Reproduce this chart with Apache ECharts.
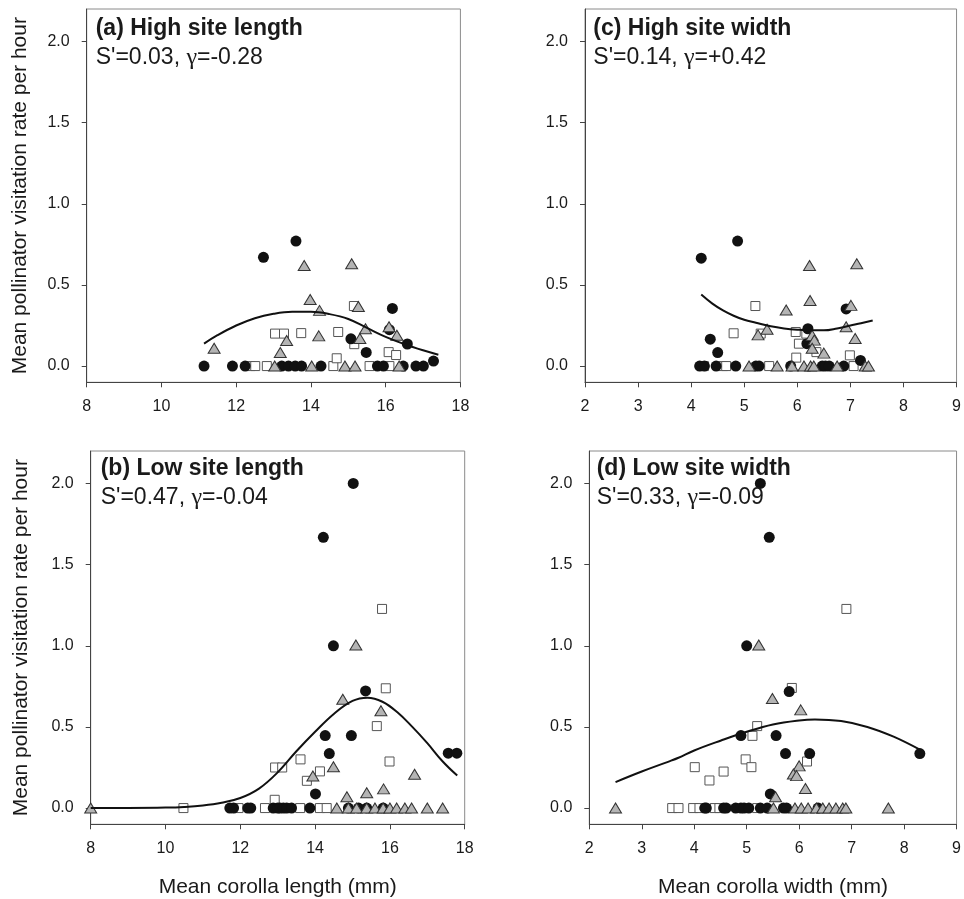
<!DOCTYPE html>
<html>
<head>
<meta charset="utf-8">
<script src="https://cdn.jsdelivr.net/npm/echarts@6/dist/echarts.min.js"></script>
<style>
html,body{margin:0;padding:0;background:#fff;}
#chart{width:964px;height:899px;}
</style>
</head>
<body>
<div id="chart"></div>
<script>
// ---------- DATA ----------
const yTicks = [0, 0.5, 1.0, 1.5, 2.0];
const yRange = [-0.1, 2.2];
const lengthTicks = [8, 18, 2];   // min, max, step
const widthTicks = [2, 9, 1];

const yAxisTitle = 'Mean pollinator visitation rate per hour';
const xTitleLength = 'Mean corolla length (mm)';
const xTitleWidth = 'Mean corolla width (mm)';

const titles = ['(a) High site length', '(b) Low site length', '(c) High site width', '(d) Low site width'];
// [S' value text, gamma value text]
const stats = [["S'=0.03, ", "=-0.28"], ["S'=0.47, ", "=-0.04"], ["S'=0.14, ", "=+0.42"], ["S'=0.33, ", "=-0.09"]];

// (a) High site length
const aCircles = [[11.14,0],[11.9,0],[12.24,0],[13.22,0],[13.4,0],[13.58,0],[13.75,0],[14.27,0],[15.78,0],[15.94,0],[16.47,0],[16.81,0],[17.01,0],
  [12.73,0.67],[13.6,0.77],[16.18,0.355],[15.07,0.168],[15.48,0.084],[16.1,0.224],[16.58,0.136],[17.28,0.031]];
const aSquares = [[12.38,0],[12.51,0],[12.82,0],[14.6,0],[15.57,0],[16.1,0],
  [13.04,0.2],[13.28,0.2],[13.74,0.203],[14.73,0.21],[15.15,0.37],[15.16,0.135],[14.69,0.048],[16.08,0.086],[16.28,0.068]];
const aTriangles = [[11.41,0.11],[13.82,0.62],[15.09,0.63],[13.98,0.41],[14.23,0.343],[15.27,0.367],[15.46,0.23],[15.31,0.17],
  [14.21,0.186],[13.35,0.158],[13.18,0.084],[16.09,0.242],[16.3,0.19],
  [13.03,0],[14.02,0],[14.91,0],[15.18,0],[16.36,0]];
const aCurve = [[11.14,0.138],[11.5,0.19],[12,0.25],[12.5,0.295],[13,0.322],[13.5,0.334],[14,0.334],[14.5,0.32],[15,0.29],[15.5,0.235],[16,0.18],[16.5,0.135],[17,0.097],[17.41,0.07]];

// (b) Low site length
const bCircles = [[15.02,2.0],[14.22,1.668],[14.49,1.0],[15.35,0.722],[14.27,0.447],[14.97,0.447],[14.38,0.336],[14.01,0.087],[17.56,0.338],[17.79,0.338],
  [11.72,0],[11.82,0],[12.2,0],[12.28,0],[12.88,0],[13.0,0],[13.06,0],[13.15,0],[13.24,0],[13.37,0],[13.86,0],[14.89,0],[15.16,0],[15.38,0],[15.82,0]];
const bSquares = [[15.79,1.227],[15.89,0.738],[15.65,0.505],[15.99,0.287],[12.93,0.25],[13.12,0.25],[13.61,0.30],[14.13,0.226],[13.78,0.168],[12.92,0.051],
  [10.48,0],[11.95,0],[12.66,0],[13.6,0],[14.13,0],[14.31,0]];
const bTriangles = [[8.0,0],[15.09,1.005],[14.74,0.67],[15.76,0.6],[14.49,0.255],[13.94,0.198],[16.66,0.208],[15.38,0.094],[15.83,0.118],[14.85,0.07],
  [14.58,0],[14.89,0],[15.11,0],[15.38,0],[15.6,0],[15.82,0],[16.0,0],[16.18,0],[16.4,0],[16.58,0],[17.0,0],[17.41,0]];
const bCurve = [[8,0],[9,0.0005],[10,0.003],[10.5,0.007],[11,0.016],[11.5,0.033],[12,0.062],[12.5,0.12],[13,0.22],[13.5,0.35],[14,0.47],[14.5,0.58],[15,0.66],[15.4,0.68],[15.8,0.655],[16.2,0.59],[16.6,0.5],[17,0.40],[17.4,0.29],[17.8,0.2]];

// (c) High site width
const cCircles = [[4.19,0.665],[4.875,0.77],[4.36,0.166],[4.5,0.083],[6.92,0.352],[6.2,0.23],[6.18,0.138],[7.19,0.035],
  [4.16,0],[4.25,0],[4.47,0],[4.84,0],[5.22,0],[5.28,0],[5.875,0],[6.47,0],[6.53,0],[6.6,0],[6.875,0]];
const cSquares = [[5.21,0.37],[4.8,0.202],[5.31,0.2],[5.97,0.21],[6.17,0.2],[6.03,0.138],[6.36,0.086],[5.98,0.052],[6.99,0.066],
  [4.24,0],[4.6,0],[4.66,0],[5.47,0],[7.06,0]];
const cTriangles = [[6.23,0.62],[7.12,0.63],[6.24,0.404],[7.01,0.374],[5.79,0.345],[6.92,0.242],[7.09,0.17],[5.43,0.227],[5.26,0.192],
  [6.28,0.189],[6.32,0.16],[6.5,0.08],[6.28,0.11],
  [5.09,0],[5.62,0],[5.9,0],[6.125,0],[6.25,0],[6.31,0],[6.75,0],[7.28,0],[7.34,0]];
const cCurve = [[4.19,0.441],[4.4,0.385],[4.6,0.343],[4.8,0.31],[5.0,0.285],[5.22,0.267],[5.5,0.245],[5.75,0.232],[6.0,0.224],[6.25,0.22],[6.5,0.22],[6.75,0.232],[7.0,0.25],[7.2,0.264],[7.42,0.281]];

// (d) Low site width
const dCircles = [[5.26,2.0],[5.43,1.668],[5.0,1.0],[5.81,0.718],[4.89,0.447],[5.56,0.447],[5.74,0.336],[6.2,0.336],[8.3,0.336],[5.45,0.087],
  [4.2,0],[4.23,0],[4.56,0],[4.61,0],[4.79,0],[4.89,0],[4.95,0],[5.04,0],[5.26,0],[5.39,0],[5.7,0],[5.76,0],[6.36,0]];
const dSquares = [[6.9,1.227],[5.86,0.74],[5.2,0.505],[5.11,0.445],[4.98,0.3],[5.09,0.252],[6.15,0.287],[4.01,0.252],[4.56,0.225],[4.29,0.17],
  [3.58,0],[3.7,0],[3.98,0],[4.1,0],[4.39,0],[4.48,0],[5.2,0]];
const dTriangles = [[2.5,0],[5.23,1.005],[5.49,0.675],[6.03,0.605],[6.0,0.26],[5.89,0.21],[5.95,0.2],[6.12,0.121],[5.55,0.07],[7.7,0],
  [5.51,0],[5.92,0],[6.04,0],[6.17,0],[6.33,0],[6.45,0],[6.57,0],[6.7,0],[6.83,0],[6.89,0]];
const dCurve = [[2.5,0.16],[3.0,0.225],[3.5,0.285],[3.7,0.31],[4.0,0.355],[4.5,0.415],[5.0,0.47],[5.5,0.515],[6.0,0.54],[6.3,0.546],[6.8,0.536],[7.3,0.5],[7.8,0.44],[8.3,0.36]];

// ---------- LAYOUT ----------
const FONT = '"Liberation Sans", Arial, sans-serif';
const SERIF = '"Liberation Serif", "Times New Roman", serif';
const TXT = '#1a1a1a';
const panels = [
  {grid:{left:86.7, top:9, width:373.7, height:373.3}, ticks:lengthTicks, pts:[aCircles,aSquares,aTriangles], curve:aCurve, title:titles[0], stat:stats[0], xName:'', yName:yAxisTitle, yGap:56, tx:95.7, ty:36},
  {grid:{left:90.7, top:451, width:374, height:373.3}, ticks:lengthTicks, pts:[bCircles,bSquares,bTriangles], curve:bCurve, title:titles[1], stat:stats[1], xName:xTitleLength, yName:yAxisTitle, yGap:59, tx:100.7, ty:475.7},
  {grid:{left:585, top:9, width:373.3, height:373.3}, ticks:widthTicks, pts:[cCircles,cSquares,cTriangles], curve:cCurve, title:titles[2], stat:stats[2], xName:'', yName:'', yGap:55, tx:593.3, ty:36},
  {grid:{left:589.3, top:451, width:373.4, height:373.3}, ticks:widthTicks, pts:[dCircles,dSquares,dTriangles], curve:dCurve, title:titles[3], stat:stats[3], xName:xTitleWidth, yName:'', yGap:55, tx:596.7, ty:475.7}
];

const grids = [], xAxes = [], yAxes = [], series = [], graphics = [];
panels.forEach((p, i) => {
  grids.push(Object.assign({show:true, borderColor:'#8a8a8a', borderWidth:1, backgroundColor:'#fff'}, p.grid));
  xAxes.push({
    type:'value', gridIndex:i, min:p.ticks[0], max:p.ticks[1], interval:p.ticks[2],
    splitLine:{show:false},
    axisLine:{onZero:false, lineStyle:{color:'#444', width:1}},
    axisTick:{length:5, lineStyle:{color:'#444'}},
    axisLabel:{fontSize:16, color:TXT, margin:16, fontFamily:FONT, showMaxLabel:true, showMinLabel:true},
    name:p.xName, nameLocation:'middle', nameGap:52,
    nameTextStyle:{fontSize:21, color:TXT, fontFamily:FONT}
  });
  yAxes.push({
    type:'value', gridIndex:i, min:yRange[0], max:yRange[1],
    splitLine:{show:false},
    axisLine:{onZero:false, lineStyle:{color:'#444', width:1}},
    axisTick:{length:5, lineStyle:{color:'#444'}, customValues:yTicks},
    axisLabel:{fontSize:16, color:TXT, margin:17, fontFamily:FONT, customValues:yTicks, formatter:v => Number(v).toFixed(1)},
    name:p.yName, nameLocation:'middle', nameGap:p.yGap,
    nameTextStyle:{fontSize:21, color:TXT, fontFamily:FONT}
  });
  series.push({type:'scatter', xAxisIndex:i, yAxisIndex:i, data:p.pts[1], symbol:'rect', symbolSize:9,
    itemStyle:{color:'#ffffff', borderColor:'#555', borderWidth:1, opacity:1}, z:2, silent:true});
  series.push({type:'scatter', xAxisIndex:i, yAxisIndex:i, data:p.pts[0], symbol:'circle', symbolSize:11,
    itemStyle:{color:'#111', opacity:1}, z:3, silent:true});
  series.push({type:'scatter', xAxisIndex:i, yAxisIndex:i, data:p.pts[2], symbol:'triangle', symbolSize:[12,10],
    itemStyle:{color:'#b4b4b4', borderColor:'#333', borderWidth:1, opacity:1}, z:4, silent:true});
  series.push({type:'line', xAxisIndex:i, yAxisIndex:i, data:p.curve, smooth:0.4, showSymbol:false, symbol:'none',
    lineStyle:{color:'#111', width:2}, z:5, silent:true});
  graphics.push({type:'text', x:p.tx, y:p.ty - 0.31*23, z:100, style:{text:p.title, font:'bold 23px ' + FONT, fill:TXT, verticalAlign:'middle', align:'left'}});
  graphics.push({type:'text', x:p.tx, y:p.ty + 29 - 0.31*23, z:100, style:{
    text:'{s|' + p.stat[0] + '}{g|\u03b3}{s|' + p.stat[1] + '}',
    verticalAlign:'middle', align:'left',
    rich:{
      s:{fontSize:23, fontFamily:FONT, fill:TXT, color:TXT},
      g:{fontSize:24, fontFamily:SERIF, fill:TXT, color:TXT}
    }
  }});
});

const chart = echarts.init(document.getElementById('chart'), null, {renderer:'canvas'});
chart.setOption({
  animation:false,
  backgroundColor:'#fff',
  grid:grids, xAxis:xAxes, yAxis:yAxes, series:series, graphic:graphics
});
</script>
</body>
</html>
